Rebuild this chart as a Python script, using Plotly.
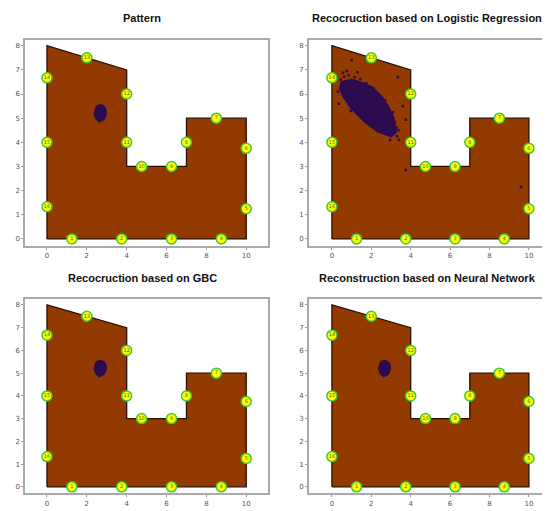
import plotly.graph_objects as go
from plotly.subplots import make_subplots

titles = ['Pattern', 'Recocruction based on Logistic Regression',
		'Recocruction based on GBC', 'Reconstruction based on Neural Network']

# room outline
room_x = [0, 10, 10, 7, 7, 4, 4, 0, 0]
room_y = [0, 0, 5, 5, 3, 3, 7, 8, 0]

# sensor positions and ids
sens_x = [1.25, 3.75, 6.25, 8.75, 10, 10, 8.5, 7, 6.25, 4.75, 4, 4, 2, 0, 0, 0]
sens_y = [0, 0, 0, 0, 1.25, 3.75, 5, 4, 3, 3, 4, 6, 7.5, 6.67, 4, 1.33]
sens_id = [str(i) for i in range(1, 17)]

# leak blob (pattern, GBC, NN) outline
blob_x = [2.45, 2.55, 2.7, 2.85, 2.95, 2.97, 2.92, 2.85, 2.75, 2.62, 2.5, 2.42, 2.38, 2.4]
blob_y = [5.45, 5.52, 5.55, 5.5, 5.38, 5.2, 5.05, 4.95, 4.9, 4.85, 4.95, 5.05, 5.2, 5.35]

# logistic regression blob outline + stray points
lr_x = [0.45, 0.98, 1.49, 2.05, 2.55, 2.95, 3.2, 3.28, 3.02, 2.34, 1.66, 0.98, 0.56, 0.38]
lr_y = [6.5, 6.62, 6.5, 6.3, 5.9, 5.4, 4.9, 4.4, 4.22, 4.42, 4.82, 5.38, 5.88, 6.22]
lr_out_x = [1.0, 3.35, 3.6, 3.75, 0.56, 0.75, 3.85, 3.75, 9.6, 3.4, 0.35, 1.3,
		0.62, 0.85, 1.15, 1.45, 0.3, 0.45, 3.28, 3.3, 2.95, 3.1, 2.7, 1.75, 2.1, 0.95, 3.38]
lr_out_y = [7.4, 6.71, 5.5, 4.93, 6.88, 6.95, 5.9, 2.85, 2.15, 4.1, 5.6, 6.9,
		6.72, 6.78, 6.7, 6.62, 6.1, 6.6, 4.6, 4.25, 4.1, 5.25, 5.75, 6.45, 6.25, 5.3, 4.5]

BROWN = '#923a00'
BLOB = '#2c0a50'

fig = make_subplots(rows=2, cols=2)

cells = [(1, 1), (1, 2), (2, 1), (2, 2)]
for k, (r, c) in enumerate(cells):
	fig.add_trace(go.Scatter(x=room_x, y=room_y, mode='lines', fill='toself',
			fillcolor=BROWN, line=dict(color='#2a1000', width=1.3),
			hoverinfo='skip'), row=r, col=c)
	if k == 1:
		fig.add_trace(go.Scatter(x=lr_x + lr_x[:1], y=lr_y + lr_y[:1], mode='lines',
				fill='toself', fillcolor=BLOB, line=dict(color=BLOB, width=1)), row=r, col=c)
		fig.add_trace(go.Scatter(x=lr_out_x, y=lr_out_y, mode='markers',
				marker=dict(color=BLOB, size=2.5, symbol='square')), row=r, col=c)
	else:
		fig.add_trace(go.Scatter(x=blob_x + blob_x[:1], y=blob_y + blob_y[:1], mode='lines',
				fill='toself', fillcolor=BLOB, line=dict(color=BLOB, width=1.5)), row=r, col=c)
	fig.add_trace(go.Scatter(x=sens_x, y=sens_y, mode='markers+text', text=sens_id,
			textposition='middle center',
			textfont=dict(size=5, color='#5a5a00', family='DejaVu Sans'),
			marker=dict(color='#ffff00', size=10, line=dict(color='#3cc83c', width=1.5))),
			row=r, col=c)

xdom = [[0.031, 0.473], [0.547, 0.989]]
ydom = [[0.534, 0.937], [0.05, 0.431]]
yranges = [[-0.3, 8.23], [-0.29, 8.27]]
xranges = [[-1.1, 11.1], [-1.17, 11.17]]
for k, (r, c) in enumerate(cells):
	sx = '' if k == 0 else str(k + 1)
	fig.layout['xaxis' + sx].update(domain=xdom[c - 1], range=xranges[c - 1],
			tickvals=[0, 2, 4, 6, 8, 10], showgrid=False, zeroline=False,
			ticks='outside', ticklen=2, tickcolor='#999',
			tickfont=dict(size=7, color='#555', family='DejaVu Sans'),
			showline=True, linecolor='#aaa', linewidth=1.5, mirror=True)
	fig.layout['yaxis' + sx].update(domain=ydom[r - 1], range=yranges[r - 1],
			tickvals=list(range(9)), showgrid=False, zeroline=False,
			ticks='outside', ticklen=2, tickcolor='#999',
			tickfont=dict(size=7, color='#555', family='DejaVu Sans'),
			showline=True, linecolor='#aaa', linewidth=1.5, mirror=True)

title_pos = [(0.244, 1 - 10 / 511), (0.762, 1 - 10 / 511), (0.244, 1 - 270 / 511), (0.762, 1 - 270 / 511)]
for t, (x, y) in zip(titles, title_pos):
	fig.add_annotation(text='<b>' + t + '</b>', x=x, y=y, xref='paper', yref='paper',
			showarrow=False, xanchor='center', yanchor='middle',
			font=dict(size=11, color='#111', family='Liberation Sans'))

fig.update_layout(width=550, height=511, showlegend=False,
		margin=dict(l=0, r=0, t=0, b=0), plot_bgcolor='white', paper_bgcolor='white')

fig.write_html('out.html')
